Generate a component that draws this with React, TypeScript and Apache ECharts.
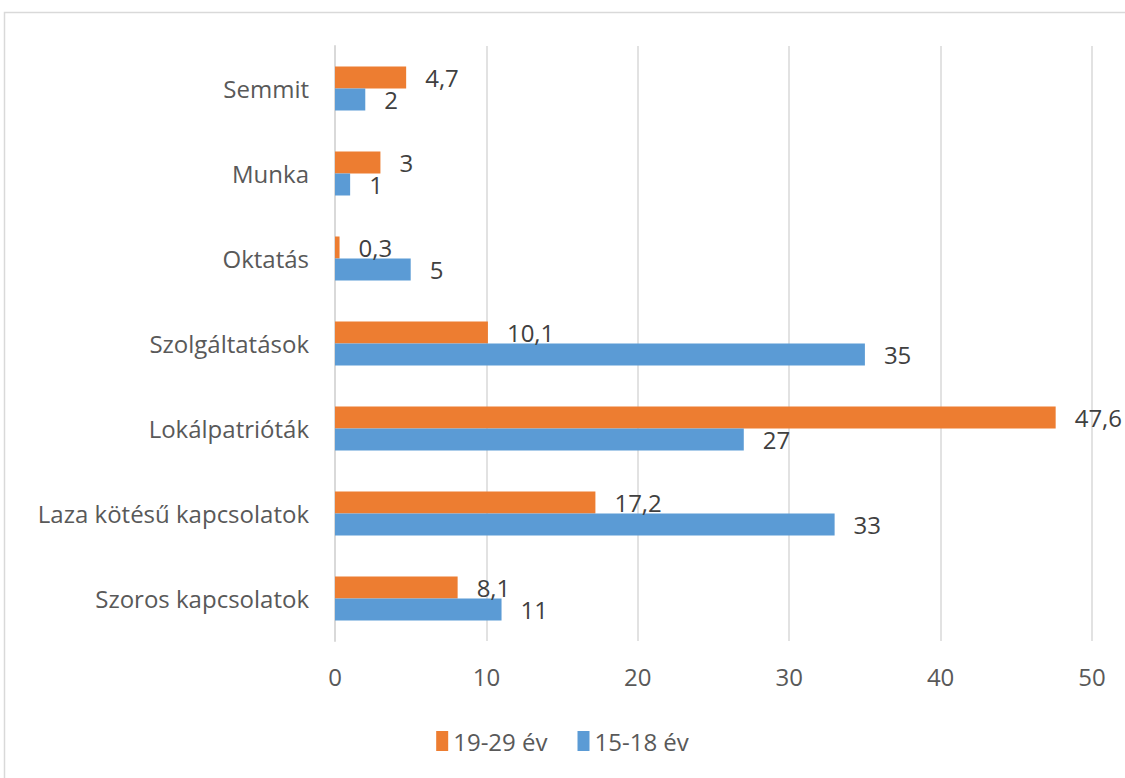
import React, { useEffect, useRef } from "react";
import * as echarts from "echarts";

const categories = [
  "Szoros kapcsolatok",
  "Laza kötésű kapcsolatok",
  "Lokálpatrióták",
  "Szolgáltatások",
  "Oktatás",
  "Munka",
  "Semmit",
];
const values1518 = [11, 33, 27, 35, 5, 1, 2];
const values1929 = [8.1, 17.2, 47.6, 10.1, 0.3, 3, 4.7];
const seriesNames = ["19-29 év", "15-18 év"];
const xTicks = { min: 0, max: 50, interval: 10 };

const FONT = "'Open Sans', sans-serif";
const FS = 24;

export default function App() {
  const ref = useRef<HTMLDivElement>(null);
  useEffect(() => {
    if (!ref.current) return;
    const chart = echarts.init(ref.current, undefined, { renderer: "svg" });
    const label = {
      show: true,
      position: "right",
      distance: 19,
      fontSize: FS,
      fontFamily: FONT,
      color: "#404040",
      formatter: (p: any) => String(p.value).replace(".", ","),
    };
    chart.setOption({
      animation: false,
      textStyle: { fontFamily: FONT },
      graphic: [
        {
          type: "rect",
          shape: { x: 4.5, y: 12.5, width: 1140, height: 800 },
          style: { fill: "none", stroke: "#d9d9d9", lineWidth: 1.5 },
          silent: true,
        },
      ],
      grid: { left: 335, right: 33, top: 46, bottom: 137 },
      legend: {
        data: seriesNames,
        bottom: 20,
        left: "center",
        itemWidth: 12,
        itemHeight: 20,
        itemGap: 30,
        icon: "rect",
        textStyle: { fontSize: FS, color: "#595959", fontFamily: FONT },
      },
      xAxis: {
        type: "value",
        min: xTicks.min,
        max: xTicks.max,
        interval: xTicks.interval,
        axisLine: { show: false },
        axisTick: { show: false },
        splitLine: { lineStyle: { color: "#d9d9d9", width: 1.5 } },
        axisLabel: { fontSize: FS, color: "#595959", margin: 23, fontFamily: FONT },
      },
      yAxis: {
        type: "category",
        data: categories,
        axisLine: { show: true, lineStyle: { color: "#d9d9d9", width: 2 } },
        axisTick: { show: false },
        axisLabel: { fontSize: FS, color: "#595959", margin: 26, fontFamily: FONT },
      },
      series: [
        {
          name: "19-29 év",
          type: "bar",
          data: values1929,
          barWidth: 22,
          barGap: "0%",
          itemStyle: { color: "#ed7d31" },
          label,
        },
        {
          name: "15-18 év",
          type: "bar",
          data: values1518,
          barWidth: 22,
          barGap: "0%",
          itemStyle: { color: "#5b9bd5" },
          label,
        },
      ],
    });
    return () => chart.dispose();
  }, []);
  return (
    <div
      ref={ref}
      style={{ position: "fixed", left: 0, top: 0, width: 1125, height: 778, background: "#fff" }}
    />
  );
}
